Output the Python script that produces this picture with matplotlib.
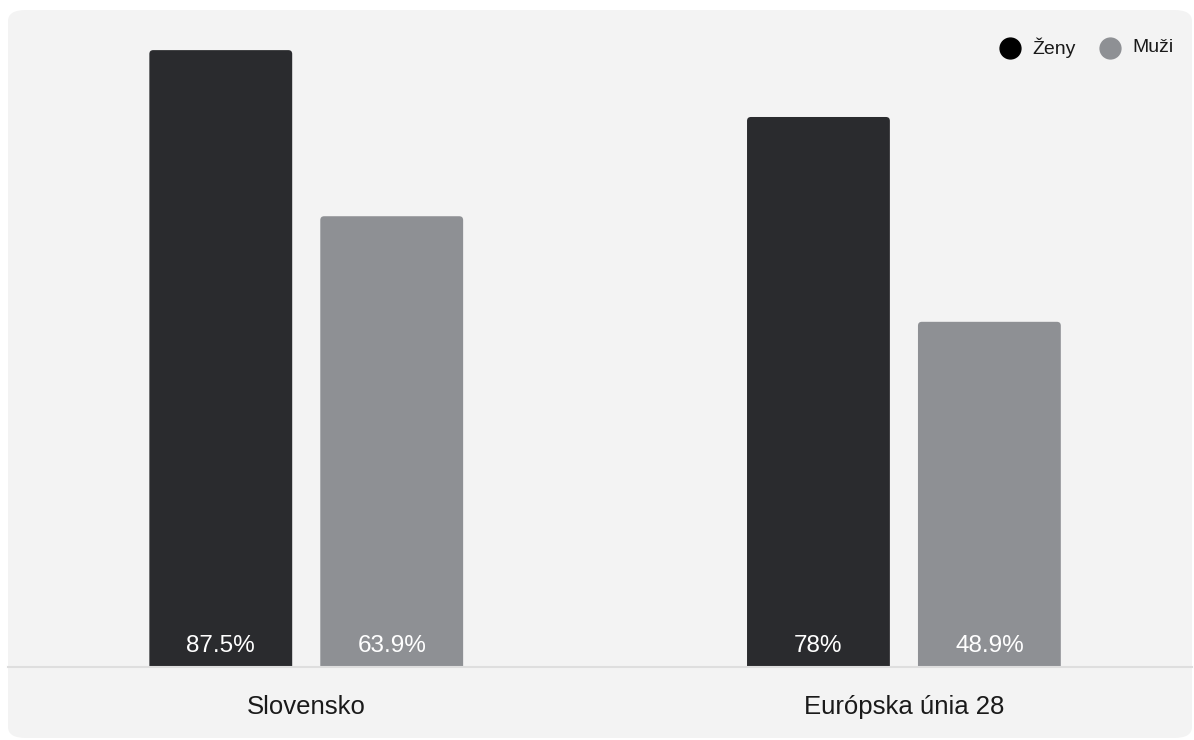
import numpy as np
from matplotlib import pyplot as plt
from matplotlib.patches import FancyBboxPatch

plt.rcParams['font.family'] = ['Liberation Sans', 'DejaVu Sans']

categories = ['Slovensko', 'Európska únia 28']
series = ['Ženy', 'Muži']
zeny = [87.5, 78.0]
muzi = [63.9, 48.9]
value_labels = [['87.5%', '78%'], ['63.9%', '48.9%']]

bar_colors = ['#2a2b2e', '#8e9094']
dot_colors = ['#000000', '#8e9094']
panel = '#f3f3f3'

W, H = 1194, 740
fig = plt.figure(figsize=(W / 100, H / 100), dpi=100)
fig.patch.set_facecolor('white')

# rounded grey panel behind everything
fig.patches.append(FancyBboxPatch((8 / W, 2 / H), 1184 / W, 728 / H,
                                  boxstyle='round,pad=0,rounding_size=0.015',
                                  transform=fig.transFigure, facecolor=panel,
                                  edgecolor='none', zorder=-5))

# axes: bottom at baseline (y=666), top at y=10
ax = fig.add_axes([8 / W, (H - 666) / H, 1184 / W, 656 / H])
ax.set_facecolor('none')
ax.set_zorder(2)
ax.set_xlim(-0.499, 1.482)
ax.set_ylim(0, 93.2)
for s in ax.spines.values():
    s.set_visible(False)
ax.set_xticks([])
ax.set_yticks([])

# px per unit: x 598, y 7.04
aspect = 598 / 7.04
x = np.arange(len(categories))
width = 0.239
off = 0.143
for k, vals in enumerate([zeny, muzi]):
    xs = x + (k * 2 - 1) * off
    for j, (xi, v) in enumerate(zip(xs, vals)):
        ax.add_patch(FancyBboxPatch((xi - width / 2, -2), width, v + 2,
                                    boxstyle='round,pad=0,rounding_size=0.0065',
                                    mutation_aspect=aspect,
                                    facecolor=bar_colors[k], edgecolor='none'))
        ax.text(xi, 2.9, value_labels[k][j], ha='center', va='center',
                color='white', fontsize=17.5)

# baseline
fig.add_artist(plt.Line2D([8 / W, 1192 / W], [(H - 667) / H] * 2,
                          color='#dedede', lw=1.5, transform=fig.transFigure,
                          zorder=3))

# category labels
for xi, c in zip(x, categories):
    ax.text(xi, -5.8, c, ha='center', va='center', fontsize=18.5,
            color='#1a1a1a', clip_on=False)

# legend
leg_x = [1010, 1110]
for k, name in enumerate(series):
    fig.add_artist(plt.Line2D([leg_x[k] / W], [(H - 48) / H], marker='o',
                              markersize=15, color=dot_colors[k],
                              transform=fig.transFigure))
    fig.text((leg_x[k] + 22) / W, (H - 48) / H, name, ha='left',
             va='center', fontsize=14, color='#1a1a1a')

fig.savefig('out.png', dpi=100, facecolor='white')
